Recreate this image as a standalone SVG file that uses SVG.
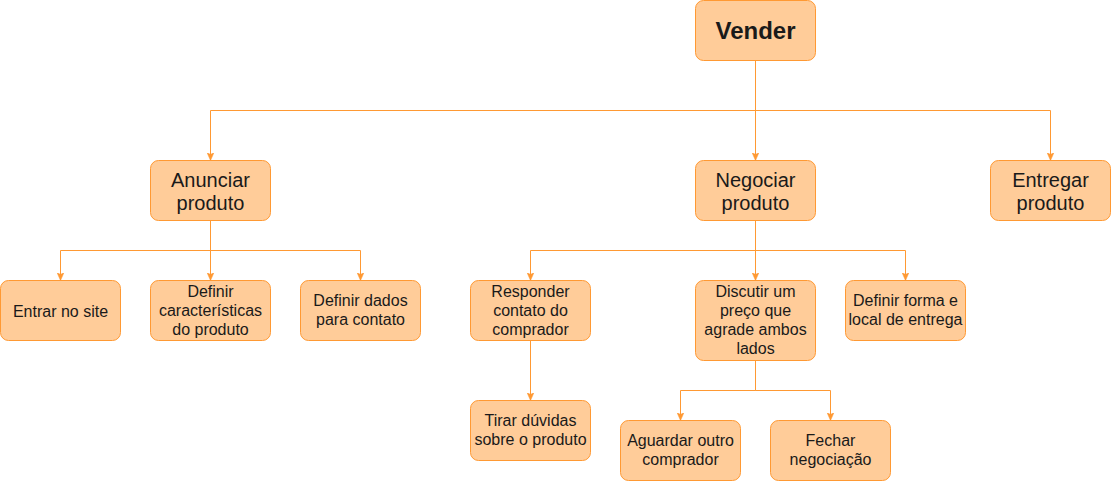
<svg xmlns="http://www.w3.org/2000/svg" width="1111" height="481" viewBox="0 0 1111 481">
<style>
.box{fill:#FFCC99;stroke:#FF9933;stroke-width:1}
.t{font-family:"Liberation Sans",Arial,Helvetica,sans-serif;fill:#1a1a1a;text-anchor:middle}
.t16{font-size:16px}
.t20{font-size:20px}
.tb{font-size:24px;font-weight:bold}
.e{fill:none;stroke:#FF9933;stroke-width:1;marker-end:url(#arr)}
</style>
<defs>
<marker id="arr" markerUnits="userSpaceOnUse" viewBox="0 0 8 7" markerWidth="8" markerHeight="7" refX="8" refY="3.5" orient="auto">
<path d="M0,0 L8,3.5 L0,7 L2,3.5 Z" fill="#FF9933" stroke="#FF9933" stroke-width="0.5"/>
</marker>
</defs>
<rect width="1111" height="481" fill="#ffffff"/>
<g id="connectors">
<path class="e" d="M755.5,60.5 V110.5 H210.5 V160.5"/>
<path class="e" d="M755.5,60.5 V160.5"/>
<path class="e" d="M755.5,60.5 V110.5 H1050.5 V160.5"/>
<path class="e" d="M210.5,220.5 V250.5 H60.5 V280.5"/>
<path class="e" d="M210.5,220.5 V280.5"/>
<path class="e" d="M210.5,220.5 V250.5 H360.5 V280.5"/>
<path class="e" d="M755.5,220.5 V250.5 H530.5 V280.5"/>
<path class="e" d="M755.5,220.5 V280.5"/>
<path class="e" d="M755.5,220.5 V250.5 H905.5 V280.5"/>
<path class="e" d="M530.5,340.5 V400.5"/>
<path class="e" d="M755.5,360.5 V390.5 H680.5 V420.5"/>
<path class="e" d="M755.5,360.5 V390.5 H830.5 V420.5"/>
</g>
<g id="vender">
<rect class="box" x="695.5" y="0.5" width="120" height="60" rx="8"/>
<text class="t tb" x="755.5" y="38.5">Vender</text>
</g>
<g id="anunciar">
<rect class="box" x="150.5" y="160.5" width="120" height="60" rx="8"/>
<text class="t t20" x="210.5" y="186.5">Anunciar</text>
<text class="t t20" x="210.5" y="210">produto</text>
</g>
<g id="negociar">
<rect class="box" x="695.5" y="160.5" width="120" height="60" rx="8"/>
<text class="t t20" x="755.5" y="186.5">Negociar</text>
<text class="t t20" x="755.5" y="210">produto</text>
</g>
<g id="entregar">
<rect class="box" x="990.5" y="160.5" width="120" height="60" rx="8"/>
<text class="t t20" x="1050.5" y="186.5">Entregar</text>
<text class="t t20" x="1050.5" y="210">produto</text>
</g>
<g id="entrar">
<rect class="box" x="0.5" y="280.5" width="120" height="60" rx="8"/>
<text class="t t16" x="60.5" y="316.5">Entrar no site</text>
</g>
<g id="caracteristicas">
<rect class="box" x="150.5" y="280.5" width="120" height="60" rx="8"/>
<text class="t t16" x="210.5" y="297">Definir</text>
<text class="t t16" x="210.5" y="316">características</text>
<text class="t t16" x="210.5" y="335">do produto</text>
</g>
<g id="dados">
<rect class="box" x="300.5" y="280.5" width="120" height="60" rx="8"/>
<text class="t t16" x="360.5" y="306">Definir dados</text>
<text class="t t16" x="360.5" y="325">para contato</text>
</g>
<g id="responder">
<rect class="box" x="470.5" y="280.5" width="120" height="60" rx="8"/>
<text class="t t16" x="530.5" y="297">Responder</text>
<text class="t t16" x="530.5" y="316">contato do</text>
<text class="t t16" x="530.5" y="335">comprador</text>
</g>
<g id="discutir">
<rect class="box" x="695.5" y="280.5" width="120" height="80" rx="8"/>
<text class="t t16" x="755.5" y="297">Discutir um</text>
<text class="t t16" x="755.5" y="316">preço que</text>
<text class="t t16" x="755.5" y="335">agrade ambos</text>
<text class="t t16" x="755.5" y="354">lados</text>
</g>
<g id="forma">
<rect class="box" x="845.5" y="280.5" width="120" height="60" rx="8"/>
<text class="t t16" x="905.5" y="306">Definir forma e</text>
<text class="t t16" x="905.5" y="325">local de entrega</text>
</g>
<g id="tirar">
<rect class="box" x="470.5" y="400.5" width="120" height="60" rx="8"/>
<text class="t t16" x="530.5" y="426">Tirar dúvidas</text>
<text class="t t16" x="530.5" y="445">sobre o produto</text>
</g>
<g id="aguardar">
<rect class="box" x="620.5" y="420.5" width="120" height="60" rx="8"/>
<text class="t t16" x="680.5" y="446">Aguardar outro</text>
<text class="t t16" x="680.5" y="465">comprador</text>
</g>
<g id="fechar">
<rect class="box" x="770.5" y="420.5" width="120" height="60" rx="8"/>
<text class="t t16" x="830.5" y="446">Fechar</text>
<text class="t t16" x="830.5" y="465">negociação</text>
</g>
</svg>
